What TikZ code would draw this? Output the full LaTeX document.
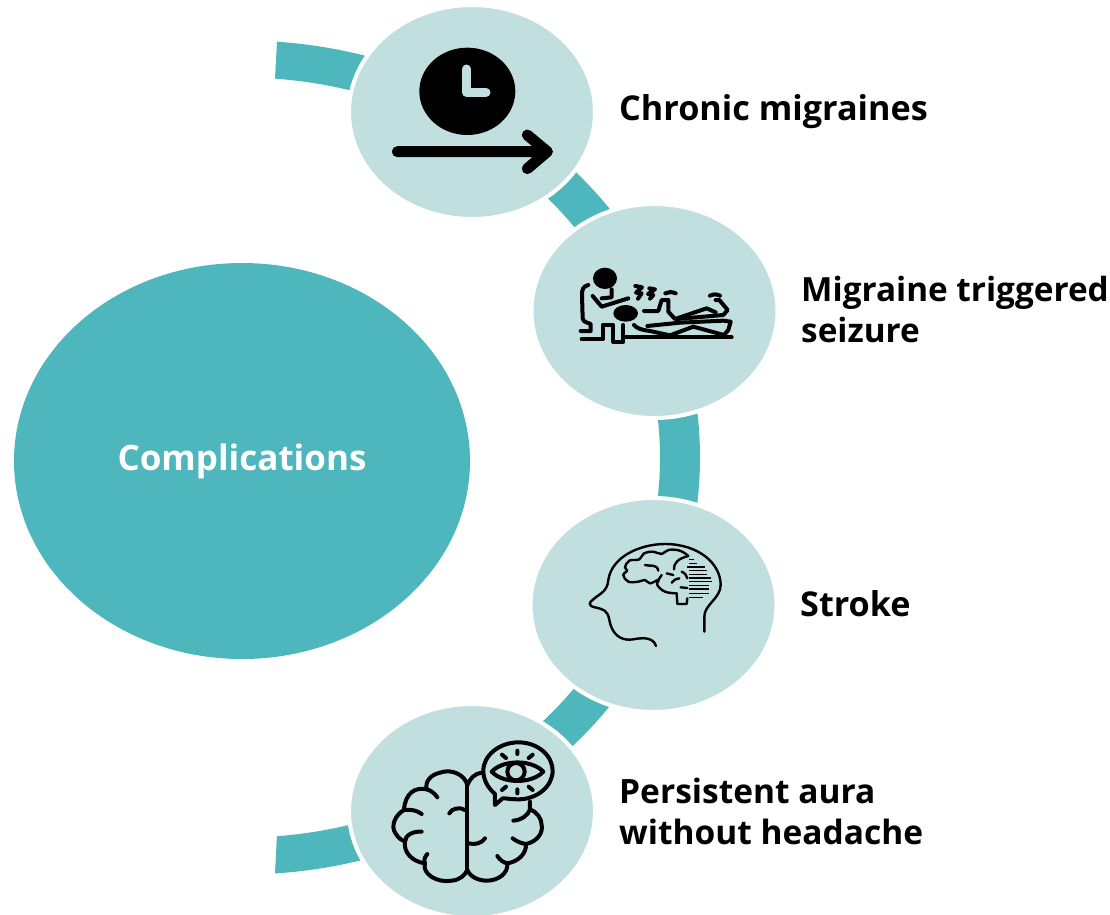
\documentclass[tikz,border=0pt]{standalone}
\usepackage{fontspec}
\setmainfont{Open Sans}
\definecolor{teal1}{HTML}{4DB7BD}
\definecolor{pale}{HTML}{C1DFDF}
\usetikzlibrary{shapes.geometric}
\tikzset{
 hub/.style={ellipse,fill=teal1,minimum width=456pt,minimum height=396pt,inner sep=0pt,text=white},
 bubble/.style={ellipse,fill=pale,draw=white,line width=4pt,minimum width=246pt,minimum height=214pt,inner sep=0pt},
 lbl/.style={anchor=west,align=left,text=black,inner sep=0pt},
 ico/.style={line width=4pt,line cap=round,line join=round,draw=black},
 thin ico/.style={line width=2.4pt,line cap=round,line join=round,draw=black},
 hatch ico/.style={line width=1.6pt,draw=black},
}
\begin{document}
\begin{tikzpicture}[x=1pt,y=-1pt]
\useasboundingbox (0,0) rectangle (1110,914);
\fill[white] (0,0) rectangle (1110,914);
% ring
\begin{scope}
\clip (278,0) -- (277,42) -- (275,78) -- (277,835) -- (275,873) -- (276,914) -- (1110,914) -- (1110,0) -- cycle;
\fill[teal1,even odd rule] (242,457.5) ellipse [x radius=458,y radius=417] (242,457.5) ellipse [x radius=418,y radius=380];
\end{scope}
\node[hub,font=\bfseries\fontsize{35}{37}\selectfont] (main) at (242,461) {Complications};
\node[bubble] (a) at (472,112) {};
\node[bubble] (b) at (654.5,311) {};
\node[bubble] (c) at (653.5,605) {};
\node[bubble] (d) at (472,811) {};
\node[lbl,font=\bfseries\fontsize{34.2}{41}\selectfont] (ta) at (619,112) {Chronic migraines};
\node[lbl,font=\bfseries\fontsize{33.3}{41}\selectfont] (tb) at (801,310) {Migraine triggered\\seizure};
\node[lbl,font=\bfseries\fontsize{34.2}{41}\selectfont] (tc) at (800,604) {Stroke};
\node[lbl,font=\bfseries\fontsize{33.5}{41}\selectfont] (td) at (619,811) {Persistent aura\\without headache};
% icon 1
\begin{scope}[shift={(340,0)},x=0.3333pt,y=-0.3333pt]
\fill[black] (382,274) ellipse [x radius=144,y radius=131];
\draw[pale,line width=9pt,line cap=round,line join=round] (380,207) -- (380,277) -- (438,277);
\draw[black,line width=11pt,line cap=round,line join=round] (172,455) -- (622,455) (562,405) -- (622,455) (562,506) -- (622,455);
\end{scope}
% icon 2
\begin{scope}[shift={(560,250)},x=0.3333pt,y=-0.3333pt]
\fill (135,85) ellipse [x radius=36,y radius=32];
\fill (197,190) ellipse [x radius=37,y radius=25];
\draw[ico] (85,105) .. controls (70,108) and (65,120) .. (66,135) -- (68,205) .. controls (70,218) and (85,218) .. (92,222) -- (92,243) -- (62,243);
\draw[ico] (65,268) -- (128,268) -- (128,225) -- (160,225) -- (160,276) -- (190,276) -- (190,225);
\draw[ico] (190,262) -- (515,262);
\draw[ico] (98,138) -- (125,170) -- (205,145);
\draw[ico] (125,145) -- (155,142) -- (155,118);
\draw[ico] (226,108) -- (246,112) -- (228,128) -- (245,130) -- (234,146);
\draw[ico] (268,115) -- (285,118) -- (264,132) -- (280,135) -- (270,146);
\draw[ico] (252,183) -- (295,183) -- (305,150) -- (325,150) -- (325,185) -- (345,207) -- (440,175) -- (467,187);
\draw[ico] (467,150) -- (478,150) -- (503,180) -- (490,195) -- (350,207);
\draw[ico] (316,130) .. controls (325,125) and (335,125) .. (347,130);
\draw[ico] (450,137) .. controls (460,132) and (470,132) .. (480,137);
\draw[ico] (262,228) -- (360,218) -- (490,212) -- (512,215) -- (505,240) -- (492,255) -- (400,230) -- (330,256) -- (270,243) .. controls (245,240) and (230,235) .. (222,225);
\end{scope}
% icon 3
\begin{scope}[shift={(570,530)},x=0.3333pt,y=-0.3333pt]
\draw[thin ico] (258,348) .. controls (250,322) and (220,322) .. (190,328) .. controls (150,335) and (125,310) .. (118,270) .. controls (113,240) and (100,238) .. (75,232) .. controls (55,228) and (55,218) .. (70,208) .. controls (90,190) and (112,185) .. (115,150) .. controls (125,80) and (210,42) .. (285,42) .. controls (385,42) and (452,100) .. (452,165) .. controls (452,205) and (402,225) .. (403,260) -- (403,305);
\draw[thin ico] plot[smooth,tension=0.7] coordinates {(355,78) (330,62) (295,60) (275,72) (250,65) (222,70) (208,88) (178,92) (165,112) (172,122) (160,135) (175,155) (205,155) (225,150) (240,160) (265,150) (262,165) (285,185) (320,190)};
\draw[thin ico] (320,190) -- (322,222) -- (350,222) -- (352,205);
\draw[thin ico] (355,78) .. controls (325,85) and (310,100) .. (312,118);
\draw[thin ico] (225,105) .. controls (240,110) and (260,100) .. (265,122);
\draw[thin ico] (290,130) -- (310,135);
\draw[thin ico] (305,158) .. controls (310,150) and (320,145) .. (328,145);
\draw[thin ico] (335,125) .. controls (345,130) and (350,135) .. (352,145);
\draw[thin ico] (265,150) -- (275,135);
\draw[thin ico] (332,172) -- (352,174);
\draw[hatch ico] (358,88) -- (372,88) (358,100) -- (382,100) (350,111) -- (405,111) (358,122) -- (410,122) (358,133) -- (412,133) (358,144) -- (422,144) (358,155) -- (425,155) (358,166) -- (418,166) (358,177) -- (416,177) (358,190) -- (416,190) (358,202) -- (398,202);
\end{scope}
% icon 4
\begin{scope}[shift={(380,730)},x=0.3333pt,y=-0.3333pt]
\draw[ico] (262,160) -- (262,420);
\draw[ico] (262,165) .. controls (255,135) and (215,115) .. (180,128) .. controls (150,135) and (135,155) .. (140,178) .. controls (105,170) and (75,190) .. (72,240) .. controls (45,255) and (30,290) .. (48,312) .. controls (55,325) and (65,330) .. (75,335) .. controls (70,365) and (95,395) .. (135,400) .. controls (125,430) and (170,460) .. (215,452) .. controls (240,450) and (255,435) .. (262,420);
\draw[ico] (262,420) .. controls (270,440) and (295,452) .. (320,452) .. controls (355,452) and (385,430) .. (382,400) .. controls (415,395) and (440,370) .. (438,342) .. controls (470,335) and (490,310) .. (485,285) .. controls (485,265) and (470,245) .. (450,238) -- (450,215);
\draw[ico] (262,165) .. controls (270,145) and (285,130) .. (305,128);
\draw[ico] (140,178) .. controls (150,180) and (165,190) .. (172,202);
\draw[ico] (72,240) .. controls (90,238) and (110,240) .. (125,252);
\draw[ico] (208,250) .. controls (215,235) and (240,230) .. (255,240);
\draw[ico] (75,335) .. controls (75,315) and (100,303) .. (125,305);
\draw[ico] (135,400) .. controls (130,390) and (135,380) .. (142,372);
\draw[ico] (265,340) .. controls (285,345) and (305,340) .. (315,325);
\draw[ico] (400,272) .. controls (425,270) and (445,255) .. (450,238);
\draw[ico] (398,325) .. controls (410,335) and (425,340) .. (438,342);
\draw[ico] (382,400) .. controls (370,398) and (358,388) .. (352,378);
% eye bubble
\draw[ico] (345,192) .. controls (322,172) and (310,148) .. (310,122) .. controls (310,75) and (360,37) .. (415,37) .. controls (475,37) and (518,78) .. (518,122) .. controls (518,170) and (470,208) .. (415,208) .. controls (395,208) and (380,205) .. (368,205) -- (345,225) -- cycle;
\draw[ico] (335,125) .. controls (370,88) and (455,88) .. (490,125) .. controls (455,162) and (370,162) .. (335,125) -- cycle;
\draw[ico] (408,125) circle [radius=26];
\draw[ico] (412,62) -- (412,72) (412,178) -- (412,190) (366,74) -- (378,84) (458,74) -- (446,84) (366,180) -- (378,170) (458,180) -- (446,170);
\end{scope}
\end{tikzpicture}
\end{document}
